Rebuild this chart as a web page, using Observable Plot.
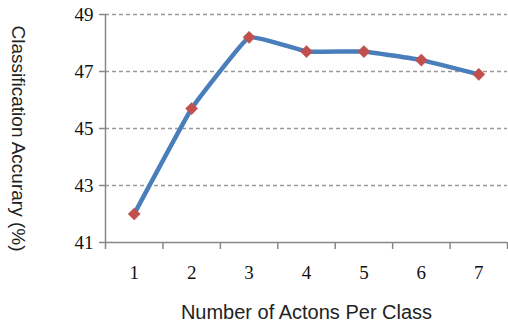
<!DOCTYPE html>
<html>
<head>
<meta charset="utf-8">
<script src="https://cdn.jsdelivr.net/npm/d3@7"></script>
<script src="https://cdn.jsdelivr.net/npm/@observablehq/plot@0.6"></script>
<style>
  html, body { margin: 0; padding: 0; background: #fff; }
  svg { display: block; }
</style>
</head>
<body>
<div id="chart"></div>
<script>
const categories = [1, 2, 3, 4, 5, 6, 7];
const accuracy = [42.0, 45.7, 48.2, 47.7, 47.7, 47.4, 46.9];
const yTicks = [41, 43, 45, 47, 49];
const xTitle = "Number of Actons Per Class";
const yTitle = "Classification Accurary (%)";

const data = categories.map((c, i) => ({ n: c, acc: accuracy[i] }));
const bounds = [categories[0] - 0.5, ...categories.map(c => c + 0.5)];
const gridTicks = yTicks.slice(1);

const axisColor = "#878787";
const serif = "Liberation Serif, Times New Roman, serif";
const sans = "Liberation Sans, Arial, sans-serif";

const chart = Plot.plot({
  width: 508,
  height: 325,
  marginLeft: 105,
  marginRight: 1,
  marginTop: 14,
  marginBottom: 83,
  style: { fontFamily: serif, background: "#fff", overflow: "visible" },
  x: { type: "linear", domain: [bounds[0], bounds[bounds.length - 1]] },
  y: { domain: [yTicks[0], yTicks[yTicks.length - 1]] },
  marks: [
    Plot.ruleY(gridTicks, { stroke: "#9a9a9a", strokeWidth: 1.4, strokeDasharray: "4,3" }),
    Plot.axisY({ ticks: yTicks, tickSize: 6, tickFormat: d => d, stroke: axisColor, strokeWidth: 1.5, strokeOpacity: 1, fontSize: 19, fill: "#111", tickPadding: 6, label: null }),
    Plot.ruleX([bounds[0]], { stroke: axisColor, strokeWidth: 1.5 }),
    Plot.axisX({ ticks: bounds, tickSize: 7, tickFormat: () => "", stroke: axisColor, strokeWidth: 1.5, strokeOpacity: 1, label: null }),
    Plot.axisX({ ticks: categories, tickSize: 0, tickPadding: 23, tickFormat: d => d, fontSize: 19, fill: "#111", label: null }),
    Plot.ruleY([yTicks[0]], { stroke: axisColor, strokeWidth: 1.5 }),
    Plot.line(data, { x: "n", y: "acc", stroke: "#4a7ebb", strokeWidth: 4.5, curve: "cardinal", tension: 0.72 }),
    Plot.dot(data, { x: "n", y: "acc", symbol: "diamond2", r: 5.5, fill: "#c0504d", stroke: "#c0504d", strokeWidth: 0.5 }),
    Plot.text([xTitle], { frameAnchor: "bottom", lineAnchor: "middle", dy: 70, fontSize: 20, fill: "#222", fontFamily: sans }),
    Plot.text([yTitle], { frameAnchor: "left", textAnchor: "middle", lineAnchor: "middle", dx: -87, dy: 10, rotate: 90, fontSize: 19, fill: "#222", fontFamily: sans })
  ]
});
document.getElementById("chart").appendChild(chart);
</script>
</body>
</html>
